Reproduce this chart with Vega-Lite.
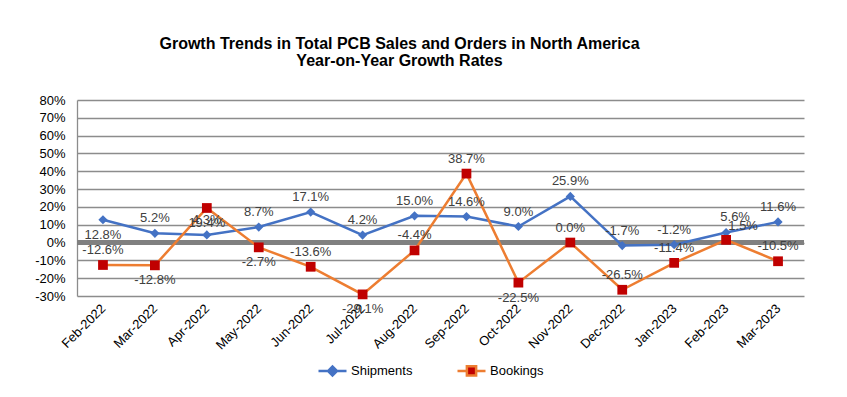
{
  "$schema": "https://vega.github.io/schema/vega-lite/v6.json",
  "autosize": {"type": "none"},
  "width": 727,
  "height": 196,
  "padding": {"left": 77, "top": 100, "right": 43, "bottom": 101},
  "background": "white",
  "title": {
    "text": ["Growth Trends in Total PCB Sales and Orders in North America", "Year-on-Year Growth Rates"],
    "font": "Liberation Sans",
    "fontSize": 16,
    "fontWeight": "bold",
    "color": "#000000",
    "lineHeight": 17,
    "anchor": "middle",
    "frame": "group",
    "dx": -41,
    "offset": 25
  },
  "config": {
    "view": {"stroke": null},
    "font": "Liberation Sans",
    "locale": {"number": {"decimal": ".", "thousands": ",", "grouping": [3], "currency": ["$", ""], "minus": "-"}}
  },
  "data": {
    "values": [
      {"month": "Feb-2022", "series": "Shipments", "value": 0.128},
      {"month": "Mar-2022", "series": "Shipments", "value": 0.052},
      {"month": "Apr-2022", "series": "Shipments", "value": 0.043},
      {"month": "May-2022", "series": "Shipments", "value": 0.087},
      {"month": "Jun-2022", "series": "Shipments", "value": 0.171},
      {"month": "Jul-2022", "series": "Shipments", "value": 0.042},
      {"month": "Aug-2022", "series": "Shipments", "value": 0.150},
      {"month": "Sep-2022", "series": "Shipments", "value": 0.146},
      {"month": "Oct-2022", "series": "Shipments", "value": 0.090},
      {"month": "Nov-2022", "series": "Shipments", "value": 0.259},
      {"month": "Dec-2022", "series": "Shipments", "value": -0.017},
      {"month": "Jan-2023", "series": "Shipments", "value": -0.012},
      {"month": "Feb-2023", "series": "Shipments", "value": 0.056},
      {"month": "Mar-2023", "series": "Shipments", "value": 0.116},
      {"month": "Feb-2022", "series": "Bookings", "value": -0.126},
      {"month": "Mar-2022", "series": "Bookings", "value": -0.128},
      {"month": "Apr-2022", "series": "Bookings", "value": 0.194},
      {"month": "May-2022", "series": "Bookings", "value": -0.027},
      {"month": "Jun-2022", "series": "Bookings", "value": -0.136},
      {"month": "Jul-2022", "series": "Bookings", "value": -0.291},
      {"month": "Aug-2022", "series": "Bookings", "value": -0.044},
      {"month": "Sep-2022", "series": "Bookings", "value": 0.387},
      {"month": "Oct-2022", "series": "Bookings", "value": -0.225},
      {"month": "Nov-2022", "series": "Bookings", "value": 0.0},
      {"month": "Dec-2022", "series": "Bookings", "value": -0.265},
      {"month": "Jan-2023", "series": "Bookings", "value": -0.114},
      {"month": "Feb-2023", "series": "Bookings", "value": 0.015},
      {"month": "Mar-2023", "series": "Bookings", "value": -0.105}
    ]
  },
  "encoding": {
    "x": {
      "field": "month",
      "type": "ordinal",
      "sort": null,
      "scale": {"type": "point", "padding": 0.5},
      "axis": {
        "title": null,
        "domain": false,
        "ticks": false,
        "grid": false,
        "labelAngle": -45,
        "labelAlign": "right",
        "labelBaseline": "middle",
        "labelPadding": 10,
        "labelFont": "Liberation Sans",
        "labelFontSize": 13,
        "labelColor": "#000000"
      }
    },
    "y": {
      "field": "value",
      "type": "quantitative",
      "scale": {"domain": [-0.3, 0.8], "nice": false, "zero": false},
      "axis": {
        "title": null,
        "values": [-0.3, -0.2, -0.1, 0, 0.1, 0.2, 0.3, 0.4, 0.5, 0.6, 0.7, 0.8],
        "format": ".0%",
        "domain": true,
        "domainColor": "#8c8c8c",
        "domainWidth": 1.3,
        "ticks": false,
        "grid": true,
        "gridColor": "#8c8c8c",
        "gridWidth": 1.3,
        "labelPadding": 12,
        "labelFont": "Liberation Sans",
        "labelFontSize": 13,
        "labelColor": "#000000"
      }
    }
  },
  "layer": [
    {
      "mark": {"type": "rule", "color": "#808080", "strokeWidth": 3.5},
      "encoding": {"y": {"datum": 0}, "x": null}
    },
    {
      "mark": {"type": "line", "strokeWidth": 2.5},
      "encoding": {
        "stroke": {
          "field": "series",
          "type": "nominal",
          "scale": {"domain": ["Shipments", "Bookings"], "range": ["#4472C4", "#ED7D31"]},
          "legend": {
            "title": null,
            "orient": "none",
            "direction": "horizontal",
            "legendX": 240,
            "legendY": 255,
            "symbolSize": 784,
            "symbolStrokeWidth": 2.5,
            "labelFont": "Liberation Sans",
            "labelFontSize": 13,
            "labelColor": "#000000",
            "labelOffset": 3,
            "columnPadding": 39,
            "encode": {
              "symbols": {
                "update": {
                  "shape": {"signal": "datum.value === 'Shipments' ? 'M-1,0L1,0M-0.32,0L0,-0.32L0.32,0L0,0.32Z' : 'M-1,0L-0.36,0M0.36,0L1,0M-0.33,-0.33L0.33,-0.33L0.33,0.33L-0.33,0.33Z'"},
                  "fill": {"signal": "datum.value === 'Shipments' ? '#4472C4' : '#C00000'"},
                  "size": {"value": 784},
                  "strokeWidth": {"value": 2.5}
                }
              }
            }
          }
        },
        "order": {"field": "series"}
      }
    },
    {
      "transform": [{"filter": "datum.series === 'Shipments'"}],
      "mark": {"type": "point", "filled": true, "opacity": 1, "shape": "diamond", "size": 85, "color": "#4472C4"}
    },
    {
      "transform": [{"filter": "datum.series === 'Bookings'"}],
      "mark": {"type": "point", "filled": true, "opacity": 1, "shape": "square", "size": 95, "color": "#C00000"}
    },
    {
      "transform": [{"filter": "(datum.series === 'Shipments' && datum.month !== 'Feb-2022' && datum.month !== 'Feb-2023') || (datum.series === 'Bookings' && indexof(['Feb-2022','Jun-2022','Aug-2022','Sep-2022','Nov-2022','Dec-2022','Jan-2023','Mar-2023'], datum.month) >= 0)"}],
      "mark": {"type": "text", "dy": -15, "baseline": "middle", "fontSize": 13, "font": "Liberation Sans", "color": "#404040"},
      "encoding": {"text": {"field": "value", "type": "quantitative", "format": ".1%"}}
    },
    {
      "transform": [{"filter": "(datum.series === 'Shipments' && datum.month === 'Feb-2022') || (datum.series === 'Bookings' && indexof(['Mar-2022','Apr-2022','May-2022','Jul-2022','Oct-2022'], datum.month) >= 0)"}],
      "mark": {"type": "text", "dy": 15, "baseline": "middle", "fontSize": 13, "font": "Liberation Sans", "color": "#404040"},
      "encoding": {"text": {"field": "value", "type": "quantitative", "format": ".1%"}}
    },
    {
      "transform": [{"filter": "datum.month === 'Feb-2023' && datum.series === 'Shipments'"}],
      "mark": {"type": "text", "dy": -16, "dx": 9, "baseline": "middle", "fontSize": 13, "font": "Liberation Sans", "color": "#404040"},
      "encoding": {"text": {"field": "value", "type": "quantitative", "format": ".1%"}}
    },
    {
      "transform": [{"filter": "datum.month === 'Feb-2023' && datum.series === 'Bookings'"}],
      "mark": {"type": "text", "dy": -14, "dx": 17, "baseline": "middle", "fontSize": 13, "font": "Liberation Sans", "color": "#404040"},
      "encoding": {"text": {"field": "value", "type": "quantitative", "format": ".1%"}}
    }
  ]
}
